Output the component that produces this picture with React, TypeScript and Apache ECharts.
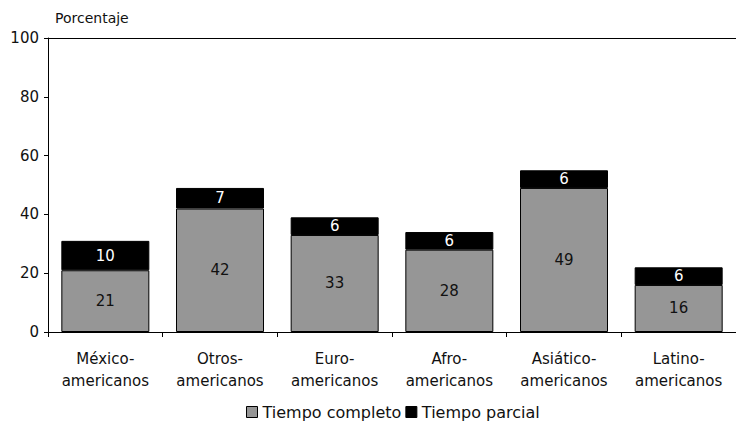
import React, { useEffect, useRef } from "react";
import * as echarts from "echarts";

const categories = [
  "México-\namericanos",
  "Otros-\namericanos",
  "Euro-\namericanos",
  "Afro-\namericanos",
  "Asiático-\namericanos",
  "Latino-\namericanos",
];
const tiempoCompleto = [21, 42, 33, 28, 49, 16];
const tiempoParcial = [10, 7, 6, 6, 6, 6];
const seriesNames = ["Tiempo completo", "Tiempo parcial"];
const yTicks = { min: 0, max: 100, interval: 20 };

const FONT = "'DejaVu Sans', sans-serif";

export default function App() {
  const ref = useRef<HTMLDivElement>(null);
  useEffect(() => {
    if (!ref.current) return;
    const chart = echarts.init(ref.current, null, { renderer: "svg" });
    chart.setOption({
      animation: false,
      textStyle: { fontFamily: FONT },
      grid: { left: 48, right: -10, top: 38, bottom: 100, containLabel: false },
      graphic: [
        {
          type: "text",
          left: 55,
          top: 11,
          style: { text: "Porcentaje", fontSize: 14, fontFamily: FONT, fill: "#111" },
        },
      ],
      legend: {
        bottom: 7,
        left: 241,
        itemWidth: 11,
        itemHeight: 11,
        itemGap: 4,
        icon: "rect",
        itemStyle: { borderColor: "#000", borderWidth: 1 },
        textStyle: { fontSize: 16, color: "#111", fontFamily: FONT },
        data: seriesNames,
      },
      xAxis: [
        {
          type: "category",
          data: categories,
          axisLine: { lineStyle: { color: "#000", width: 1 } },
          axisTick: { show: true, length: 5, lineStyle: { color: "#000" } },
          axisLabel: { color: "#111", fontSize: 15, lineHeight: 22, margin: 16, fontFamily: FONT },
        },
        {
          type: "category",
          data: categories,
          position: "top",
          axisLine: { show: true, lineStyle: { color: "#000", width: 1 } },
          axisTick: { show: false },
          axisLabel: { show: false },
        },
      ],
      yAxis: {
        type: "value",
        min: yTicks.min,
        max: yTicks.max,
        interval: yTicks.interval,
        axisLine: { show: true, lineStyle: { color: "#000", width: 1 } },
        axisTick: { show: true, length: 4, lineStyle: { color: "#000" } },
        axisLabel: { color: "#111", fontSize: 15, margin: 9, fontFamily: FONT },
        splitLine: { show: false },
      },
      series: [
        {
          name: seriesNames[0],
          type: "bar",
          stack: "total",
          data: tiempoCompleto,
          barWidth: 88,
          itemStyle: { color: "#969696", borderColor: "#000", borderWidth: 1 },
          label: { show: true, position: "inside", color: "#111", fontSize: 15, fontFamily: FONT },
        },
        {
          name: seriesNames[1],
          type: "bar",
          stack: "total",
          data: tiempoParcial,
          barWidth: 88,
          itemStyle: { color: "#000", borderColor: "#000", borderWidth: 1 },
          label: { show: true, position: "inside", color: "#fff", fontSize: 15, fontFamily: FONT },
        },
      ],
    });
    return () => chart.dispose();
  }, []);
  return <div ref={ref} style={{ width: 736, height: 432, position: "absolute", left: 0, top: 0 }} />;
}
